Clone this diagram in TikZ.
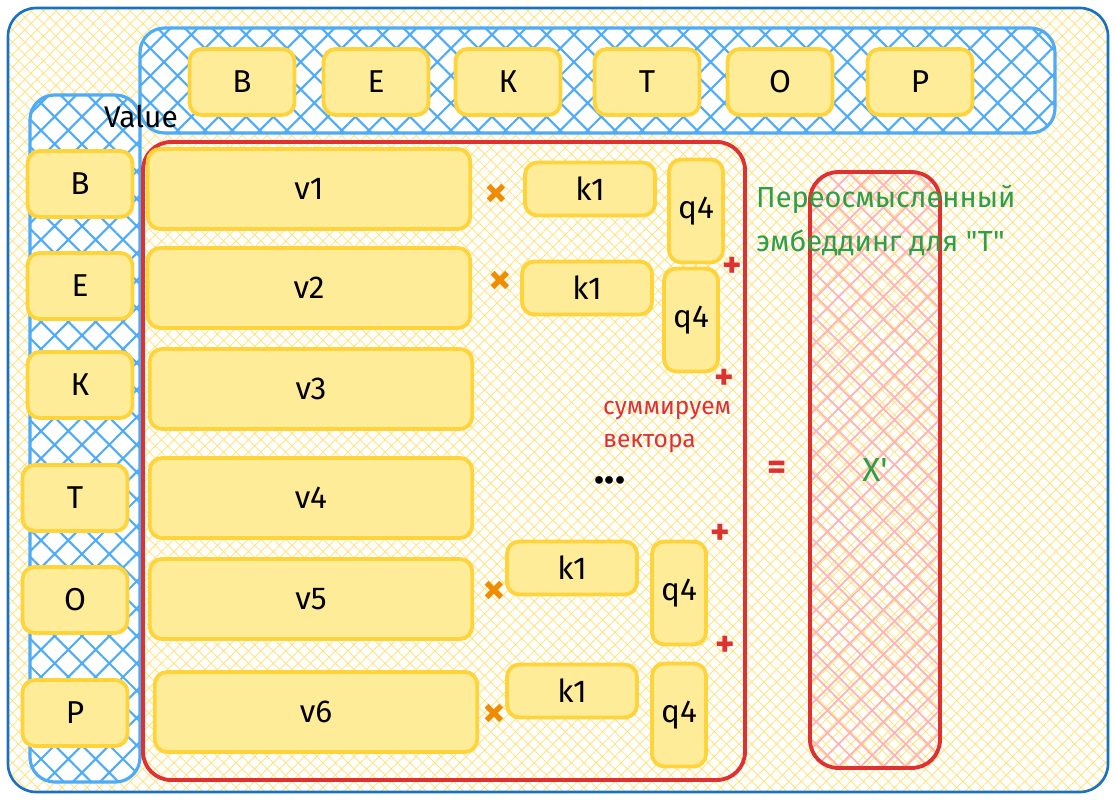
\documentclass[tikz,border=0pt]{standalone}
\usepackage{fontspec}
\setmainfont{Fira Sans}
\newfontfamily\plainfont{Fira Sans}
\usetikzlibrary{positioning,patterns.meta}
\definecolor{boxfill}{HTML}{FFEC99}
\definecolor{boxline}{HTML}{FFD43B}
\definecolor{hatchblue}{HTML}{4DABF7}
\definecolor{frameblue}{HTML}{1971C2}
\definecolor{sumred}{HTML}{E03131}
\definecolor{mulorange}{HTML}{F08C00}
\definecolor{embgreen}{HTML}{2F9E44}
\definecolor{hatchpink}{HTML}{FFB3B3}
\definecolor{hatchyellow}{HTML}{FFE380}
\tikzset{cell/.style={draw=boxline,fill=boxfill,line width=2.2pt,rounded corners=7pt,inner sep=0pt,font=\fontsize{18}{20}\selectfont}}
\tikzstyle{tok}=[cell, minimum width=2.1cm, minimum height=1.32cm]
\tikzstyle{vec}=[cell, minimum width=6.45cm, minimum height=1.6cm]
\tikzstyle{key}=[cell, minimum width=2.6cm, minimum height=1.06cm]
\tikzstyle{qry}=[cell, minimum width=1.08cm, minimum height=2.06cm]
\tikzstyle{mul}=[text=mulorange, font=\fontsize{26}{26}\selectfont\bfseries, inner sep=0pt]
\tikzstyle{add}=[text=sumred, font=\fontsize{21}{21}\selectfont\bfseries, inner sep=0pt]
\tikzstyle{bar}=[draw=hatchblue, line width=1.8pt, rounded corners=14pt, preaction={fill=white}, pattern={Hatch[angle=45,distance=11pt,line width=1.2pt]}, pattern color=hatchblue]
\newcommand{\ylw}{pattern={Hatch[angle=45,distance=5pt,line width=.5pt]}, pattern color=hatchyellow}

\begin{document}
\begin{tikzpicture}[x=0.02cm,y=-0.02cm]
    \useasboundingbox (0,0) rectangle (1116,800);
    \expandafter\draw\expandafter[\ylw, draw=frameblue, line width=1.5pt, rounded corners=16pt] (8,8) rectangle (1108,792);
    \draw[bar] (140,28) rectangle (1055,133);
    \draw[bar] (30,95) rectangle (140,782);
    \draw[sumred, line width=2.2pt, rounded corners=16pt] (143,142) rectangle (745,780);

    \node [tok] (tB) at (242,82) {В};
    \node [tok] (tE) at (376,82) {Е};
    \node [tok] (tK) at (508,82) {К};
    \node [tok] (tT) at (647,82) {Т};
    \node [tok] (tO) at (780,82) {О};
    \node [tok] (tP) at (920,82) {Р};
    \node [font=\fontsize{17}{18}\selectfont, anchor=east] (val) at (184,116) {Value};

    \node [tok] (lB) at (80,184) {В};
    \node [tok] (lE) at (80,286) {Е};
    \node [tok] (lK) at (80,385) {К};
    \node [tok] (lT) at (75,498) {Т};
    \node [tok] (lO) at (75,600) {О};
    \node [tok] (lP) at (75,713) {Р};

    \node [vec] (v1) at (309,189) {v1};
    \node [vec] (v2) at (309,288) {v2};
    \node [vec] (v3) at (311,389) {v3};
    \node [vec] (v4) at (311,498) {v4};
    \node [vec] (v5) at (311,599) {v5};
    \node [vec] (v6) at (316,712) {v6};

    \node [key] (k1) at (590,189) {k1};
    \node [key] (k2) at (587,288) {k1};
    \node [key] (k5) at (572,568) {k1};
    \node [key] (k6) at (572,691) {k1};

    \node [qry] (q1) at (696,211) {q4};
    \node [qry] (q2) at (691,320) {q4};
    \node [qry] (q5) at (679,593) {q4};
    \node [qry] (q6) at (679,715) {q4};

    \node [mul] (m1) at (496,196) {×};
    \node [mul] (m2) at (500,283) {×};
    \node [mul] (m5) at (494,593) {×};
    \node [mul] (m6) at (494,716) {×};

    \node [add] (p1) at (732,267) {+};
    \node [add] (p2) at (724,379) {+};
    \node [add] (p5) at (720,534) {+};
    \node [add] (p6) at (725,646) {+};

    \node [text=sumred, align=left, font=\fontsize{14}{18.5}\selectfont, anchor=west] (sum) at (597,427) {суммируем\\вектора};
    \node [font=\fontsize{24}{24}\selectfont\bfseries] (dots) at (610,480) {...};

    \node [draw=sumred, line width=2.2pt, rounded corners=16pt, minimum width=2.6cm, minimum height=11.92cm, pattern={Hatch[angle=45,distance=9pt,line width=1pt]}, pattern color=hatchpink, text=embgreen, font=\plainfont\fontsize{19}{20}\selectfont] (xp) at (875,470) {X'};
    \node [add, left=0.45cm of xp] (eq) {=};
    \node [text=embgreen, align=left, anchor=north west, font=\plainfont\fontsize{16.5}{25}\selectfont] (emb) at (750,179) {Переосмысленный\\эмбеддинг для "Т"};
\end{tikzpicture}
\end{document}
